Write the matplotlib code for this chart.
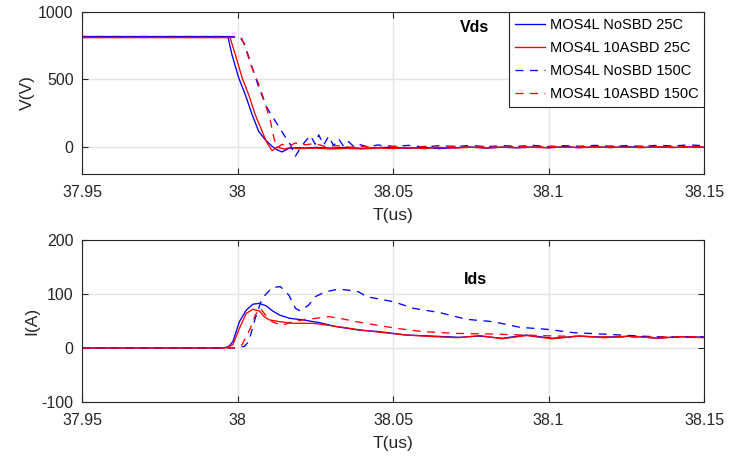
import matplotlib.pyplot as plt
import matplotlib as mpl

# 字体：MATLAB 风格的 Arial 类字体
plt.rcParams['font.family'] = ['Liberation Sans', 'DejaVu Sans']
plt.rcParams['axes.unicode_minus'] = False

# ---------------- Vds 数据 (us, V) ----------------
t_v_nosbd25 = [37.95, 37.9969, 37.9982, 38.0004, 38.0025, 38.0047, 38.0068, 38.0089, 38.0111,
               38.0127, 38.0143, 38.0165, 38.019, 38.022, 38.025, 38.03, 38.035, 38.04, 38.045,
               38.05, 38.055, 38.06, 38.065, 38.07, 38.075, 38.08, 38.085, 38.09, 38.095, 38.1,
               38.105, 38.11, 38.115, 38.12, 38.125, 38.13, 38.135, 38.14, 38.145, 38.15]
v_nosbd25 = [818, 818, 684, 511, 387, 239, 116, 54, 5,
             -20, -37, -10, -5, -8, -3, -8, -3, -10, -5,
             -2, -10, -3, -12, -5, 0, -8, -2, -6, 0, -5,
             2, -5, 0, -4, 2, -3, 0, -4, 1, -2]

t_v_sbd25 = [37.95, 37.9976, 37.9993, 38.0015, 38.0036, 38.0057, 38.0079, 38.0095, 38.0111,
             38.0127, 38.0149, 38.017, 38.02, 38.025, 38.03, 38.035, 38.04, 38.045, 38.05,
             38.055, 38.06, 38.065, 38.07, 38.075, 38.08, 38.085, 38.09, 38.095, 38.1, 38.105,
             38.11, 38.115, 38.12, 38.125, 38.13, 38.135, 38.14, 38.145, 38.15]
v_sbd25 = [810, 810, 684, 511, 387, 239, 116, 30, -27,
           0, -15, -5, -12, -8, -15, -10, -15, -8, -12,
           -5, -12, -3, -8, -2, -8, 0, -5, -2, -6, 0,
           -5, 2, -4, 0, -5, 2, -3, 0, -3]

t_v_nosbd150 = [37.95, 38.0006, 38.0021, 38.0048, 38.0069, 38.0095, 38.0122, 38.0149, 38.017,
                38.0186, 38.0202, 38.0218, 38.0234, 38.025, 38.0261, 38.0277, 38.0293, 38.0309,
                38.0325, 38.0341, 38.0357, 38.0375, 38.039, 38.042, 38.045, 38.05, 38.055, 38.06,
                38.065, 38.07, 38.075, 38.08, 38.085, 38.09, 38.095, 38.1, 38.105, 38.11, 38.115,
                38.12, 38.125, 38.13, 38.135, 38.14, 38.145, 38.15]
v_nosbd150 = [818, 818, 770, 585, 437, 289, 190, 91, 17,
              -69, -7, 42, 85, 20, 90, 15, 80, 10, 60, 5, 40, 0, 20, 0, 15, 5, 12, 0,
              10, 3, 12, 2, 10, 5, 12, 3, 10, 5, 12,
              5, 10, 5, 12, 8, 15, 10]

t_v_sbd150 = [37.95, 38.0012, 38.0026, 38.0042, 38.0069, 38.009, 38.0106, 38.0117, 38.0127,
              38.0143, 38.0165, 38.0186, 38.0202, 38.0218, 38.025, 38.028, 38.032, 38.036, 38.04,
              38.045, 38.05, 38.055, 38.06, 38.065, 38.07, 38.075, 38.08, 38.085, 38.09, 38.095,
              38.1, 38.105, 38.11, 38.115, 38.12, 38.125, 38.13, 38.135, 38.14, 38.145, 38.15]
v_sbd150 = [812, 812, 733, 610, 461, 313, 190, 67, -7,
            20, 5, 30, 15, 17, 25, 5, 10, -2, 5,
            -5, 3, -6, 5, -4, 6, -3, 4, -5, 5, -2,
            6, -3, 4, -2, 6, -2, 5, -3, 4, 0, 3]

# ---------------- Ids 数据 (us, A) ----------------
t_i_nosbd25 = [37.95, 37.9955, 37.9972, 37.9985, 38.0006, 38.0028, 38.0049, 38.007, 38.0092,
               38.0113, 38.0135, 38.0167, 38.021, 38.0263, 38.0317, 38.0392, 38.0457, 38.0543,
               38.0627, 38.0713, 38.0777, 38.0852, 38.0927, 38.1013, 38.1099, 38.118, 38.127,
               38.135, 38.142, 38.15]
i_nosbd25 = [0, 0, 3, 11.7, 48.7, 70, 81, 82.7, 78,
             68.5, 61, 55, 52, 47, 39.5, 33, 30.2, 24,
             22, 19.8, 22, 18, 24, 18, 22, 20, 22,
             18, 21, 20]

t_i_sbd25 = [37.95, 37.9962, 37.9985, 38.0006, 38.0028, 38.0049, 38.007, 38.0086, 38.0102,
             38.0135, 38.0178, 38.0242, 38.0285, 38.0338, 38.04, 38.046, 38.054, 38.063,
             38.071, 38.078, 38.085, 38.093, 38.101, 38.11, 38.118, 38.127, 38.135, 38.143, 38.15]
i_sbd25 = [0, 0, 6, 36.4, 64, 71.6, 68.5, 58, 52,
           48.7, 45.7, 45.7, 42.6, 38.3, 33, 29, 24, 21,
           19, 23, 17, 23, 17, 22, 19, 22, 18, 21, 19]

t_i_nosbd150 = [37.95, 37.999, 38.0022, 38.0036, 38.0057, 38.0079, 38.0111, 38.0138, 38.0165,
                38.0186, 38.0202, 38.0229, 38.025, 38.0282, 38.0325, 38.0357, 38.0389, 38.0415,
                38.0501, 38.0565, 38.0651, 38.0737, 38.0822, 38.0908, 38.0994, 38.1079, 38.1186,
                38.1293, 38.14, 38.15]
i_nosbd150 = [0, 0, 3, 11.7, 55, 92, 111.7, 113.6, 98,
              73.5, 68.5, 79.6, 95, 104, 109, 107, 104, 95,
              85.7, 73.5, 65.4, 53, 48.7, 38.3, 34.6, 28.4, 25.4,
              22, 19.8, 21]

t_i_sbd150 = [37.95, 37.999, 38.0014, 38.0041, 38.0057, 38.0073, 38.009, 38.0111, 38.0138,
              38.0154, 38.0177, 38.021, 38.0253, 38.0296, 38.0328, 38.0382, 38.0425, 38.0511,
              38.0597, 38.0704, 38.0811, 38.0918, 38.1026, 38.1133, 38.13, 38.15]
i_sbd150 = [0, 0, 5.5, 36, 61, 73.5, 61, 48.7, 42.6,
            44, 48.7, 52, 55, 58, 55, 48.7, 44.4, 36.4,
            30.2, 27, 26, 24, 22, 21, 20, 21]

labels = ['MOS4L NoSBD 25C', 'MOS4L 10ASBD 25C', 'MOS4L NoSBD 150C', 'MOS4L 10ASBD 150C']
colors = ['#0000ff', '#ff0000', '#0000ff', '#ff0000']
dash = (6, 5)

xticks = [37.95, 38, 38.05, 38.1, 38.15]
xticklabels = ['37.95', '38', '38.05', '38.1', '38.15']

fig = plt.figure(figsize=(7.41, 4.63), dpi=100)
ax1 = fig.add_axes([0.1107, 0.6242, 0.8394, 0.3499])
ax2 = fig.add_axes([0.1107, 0.1318, 0.8394, 0.3499])


def style_axes(ax):
    ax.set_xlim(37.95, 38.15)
    ax.set_xticks(xticks)
    ax.set_xticklabels(xticklabels)
    ax.grid(True, color='#e3e3e3', lw=1.0)
    ax.set_axisbelow(True)
    ax.tick_params(direction='in', length=4, width=0.8, top=True, right=True,
                   labelsize=11.5, colors='#262626', pad=6)
    ax.tick_params(axis='x', pad=8)
    for s in ax.spines.values():
        s.set_color('#262626')
        s.set_linewidth(0.8)


# 上图：Vds
ax1.plot(t_v_nosbd25, v_nosbd25, color=colors[0], lw=0.95, label=labels[0])
ax1.plot(t_v_sbd25, v_sbd25, color=colors[1], lw=0.95, label=labels[1])
ax1.plot(t_v_nosbd150, v_nosbd150, color=colors[2], lw=0.95, dashes=dash, label=labels[2])
ax1.plot(t_v_sbd150, v_sbd150, color=colors[3], lw=0.95, dashes=dash, label=labels[3])
style_axes(ax1)
ax1.set_ylim(-200, 1000)
ax1.set_yticks([0, 500, 1000])
ax1.set_ylabel('V(V)', fontsize=12.5, color='#262626', labelpad=2)
ax1.set_xlabel('T(us)', fontsize=12.5, color='#262626', labelpad=6)
ax1.text(0.654, 0.907, 'Vds', transform=ax1.transAxes, ha='right', va='center',
         fontsize=11.5, fontweight='bold')
leg = ax1.legend(loc='upper right', borderaxespad=0, fontsize=10.5, fancybox=False,
                 framealpha=1, edgecolor='#262626', handlelength=2.1, handletextpad=0.3,
                 borderpad=0.4, labelspacing=0.62)
leg.get_frame().set_linewidth(0.8)

# 下图：Ids
ax2.plot(t_i_nosbd25, i_nosbd25, color=colors[0], lw=0.95)
ax2.plot(t_i_sbd25, i_sbd25, color=colors[1], lw=0.95)
ax2.plot(t_i_nosbd150, i_nosbd150, color=colors[2], lw=0.95, dashes=dash)
ax2.plot(t_i_sbd150, i_sbd150, color=colors[3], lw=0.95, dashes=dash)
style_axes(ax2)
ax2.set_ylim(-100, 200)
ax2.set_yticks([-100, 0, 100, 200])
ax2.set_ylabel('I(A)', fontsize=12.5, color='#262626', labelpad=2)
ax2.set_xlabel('T(us)', fontsize=12.5, color='#262626', labelpad=6)
ax2.text(0.651, 0.759, 'Ids', transform=ax2.transAxes, ha='right', va='center',
         fontsize=11.5, fontweight='bold')

fig.savefig('out.png', dpi=100)
